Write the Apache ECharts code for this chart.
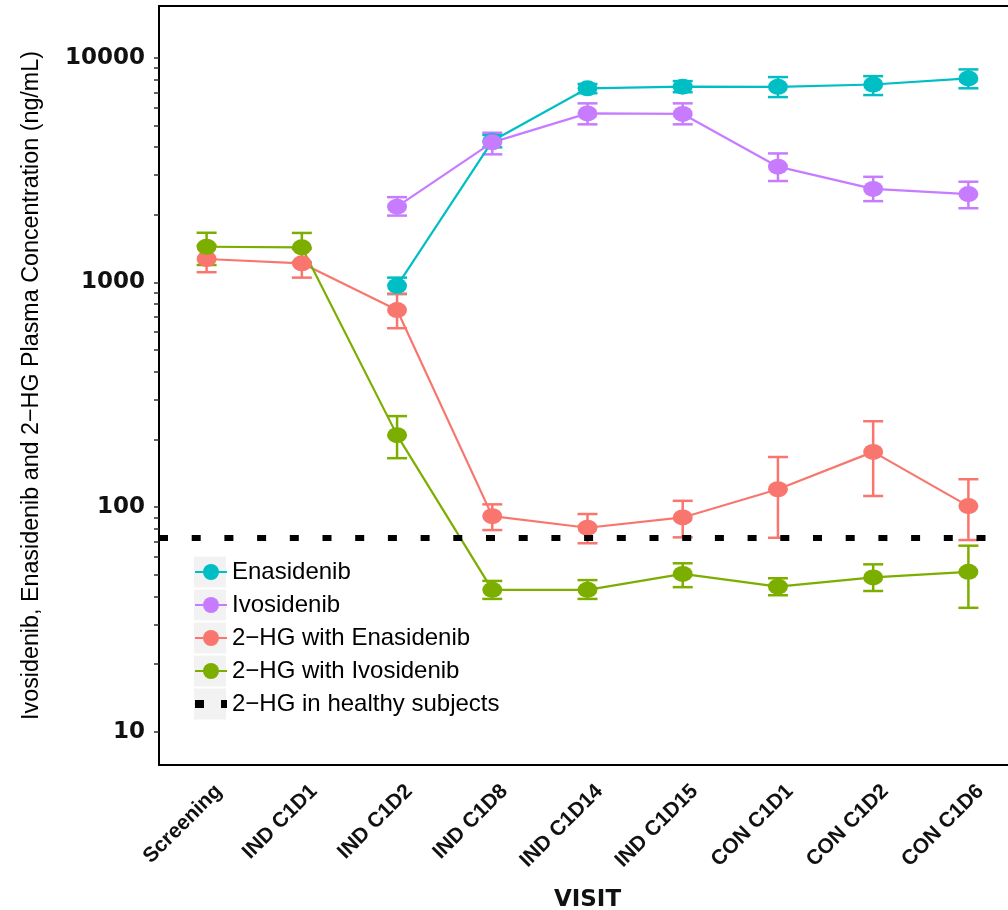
<!DOCTYPE html>
<html>
<head>
<meta charset="utf-8">
<script src="https://cdn.jsdelivr.net/npm/echarts@6/dist/echarts.min.js"></script>
<style>html,body{margin:0;padding:0;background:#fff;}#chart{width:1008px;height:910px;}</style>
</head>
<body>
<div id="chart"></div>
<script>
const categories = ['Screening','IND C1D1','IND C1D2','IND C1D8','IND C1D14','IND C1D15','CON C1D1','CON C1D2','CON C1D6'];

const enaMean = [null, null, 965, 4257, 7310, 7430, 7420, 7600, 8090];
const enaLow  = [null, null, 887, 3990, 6950, 7020, 6680, 6820, 7310];
const enaHigh = [null, null, 1050, 4530, 7640, 7870, 8200, 8280, 8870];

const ivoMean = [null, null, 2173, 4200, 5650, 5620, 3273, 2606, 2473];
const ivoLow  = [null, null, 1983, 3715, 5052, 5052, 2826, 2300, 2138];
const ivoHigh = [null, null, 2395, 4635, 6265, 6265, 3750, 2950, 2806];

const hgEnaMean = [1271, 1216, 753, 91.1, 80.9, 89.9, 120, 176, 101];
const hgEnaLow  = [1110, 1050, 625, 79.0, 69.0, 73.3, 73, 112, 71.3];
const hgEnaHigh = [1455, 1410, 890, 102.8, 93.1, 106.6, 167, 241, 133];

const hgIvoMean = [1441, 1432, 209, 42.8, 42.8, 50.4, 44.2, 48.6, 51.5];
const hgIvoLow  = [1195, 1230, 165, 39.0, 39.0, 44.0, 40.5, 42.3, 35.6];
const hgIvoHigh = [1663, 1660, 254, 46.9, 47.3, 56.2, 48.2, 55.6, 67.3];

const healthyLevel = 73.3;

const yTickLabels = [10, 100, 1000, 10000];
const minorMultipliers = [1, 2, 3, 4, 5, 6, 7, 8, 9];

const names = ['Enasidenib', 'Ivosidenib', '2\u2212HG with Enasidenib', '2\u2212HG with Ivosidenib'];
const healthyName = '2\u2212HG in healthy subjects';
const colors = ['#00BFC4', '#C77CFF', '#F8766D', '#7CAE00'];
const means = [enaMean, ivoMean, hgEnaMean, hgIvoMean];
const lows = [enaLow, ivoLow, hgEnaLow, hgIvoLow];
const highs = [enaHigh, ivoHigh, hgEnaHigh, hgIvoHigh];

const tickValues = [];
yTickLabels.slice(0, 3).forEach(d => minorMultipliers.forEach(m => tickValues.push(d * m)));
tickValues.push(10000);

function errRender(color) {
  return function (params, api) {
    const x = api.value(0);
    const lo = api.coord([x, api.value(1)]);
    const hi = api.coord([x, api.value(2)]);
    const hw = 10;
    const style = { stroke: color, lineWidth: 2.5, fill: null };
    return {
      type: 'group',
      children: [
        { type: 'line', shape: { x1: lo[0], y1: hi[1], x2: lo[0], y2: lo[1] }, style: style },
        { type: 'line', shape: { x1: lo[0] - hw, y1: hi[1], x2: lo[0] + hw, y2: hi[1] }, style: style },
        { type: 'line', shape: { x1: lo[0] - hw, y1: lo[1], x2: lo[0] + hw, y2: lo[1] }, style: style }
      ]
    };
  };
}

const series = [];
names.forEach((n, k) => {
  const errData = [];
  means[k].forEach((v, i) => { if (v != null) errData.push([i, lows[k][i], highs[k][i]]); });
  series.push({
    type: 'custom', name: 'err_' + k, renderItem: errRender(colors[k]),
    data: errData, encode: { x: 0, y: [1, 2] }, z: 2, silent: true
  });
});
names.forEach((n, k) => {
  series.push({
    type: 'line', name: n, data: means[k], symbol: 'circle', symbolSize: [20, 16],
    lineStyle: { color: colors[k], width: 2.2 }, itemStyle: { color: colors[k] },
    z: 3, silent: true
  });
});
series.push({
  type: 'line', name: healthyName, data: [], itemStyle: { color: '#000' },
  lineStyle: { color: '#000' }, z: 5,
  markLine: {
    silent: true, symbol: 'none', z: 10,
    label: { show: false },
    lineStyle: { color: '#000', width: 6, type: [9, 23.7], cap: 'butt' },
    data: [{ yAxis: healthyLevel }]
  }
});

const legendKeys = [0, 1, 2, 3, 4].map(k => ({
  type: 'rect', shape: { x: 194, y: 556.5 + 33 * k, width: 32, height: 31 },
  style: { fill: '#F2F2F2' }, z: 1
}));

const chart = echarts.init(document.getElementById('chart'), null, { renderer: 'canvas' });
chart.setOption({
  animation: false,
  backgroundColor: '#fff',
  grid: { left: 159, top: 6, width: 857, bottom: 145, outerBoundsMode: 'none', containLabel: false, show: true, borderColor: '#000', borderWidth: 2, backgroundColor: 'transparent' },
  xAxis: {
    type: 'category', data: categories, boundaryGap: true,
    axisLine: { lineStyle: { color: '#000', width: 2 } },
    axisTick: { alignWithLabel: true, length: 5, lineStyle: { color: '#333', width: 1.5 } },
    axisLabel: { rotate: 45, interval: 0, fontFamily: 'Liberation Sans', fontWeight: 'bold', fontSize: 21, color: '#111', margin: 11, verticalAlign: 'top', lineHeight: 34 },
    splitLine: { show: false },
    name: 'VISIT', nameLocation: 'middle', nameGap: 124,
    nameTextStyle: { fontFamily: 'DejaVu Sans', fontWeight: 'bold', fontSize: 23, color: '#111' }
  },
  yAxis: {
    type: 'log', logBase: 10, min: 7.11, max: 16990,
    axisLine: { show: true, lineStyle: { color: '#000', width: 2 } },
    axisTick: { show: true, length: 5, lineStyle: { color: '#333', width: 1.5 }, customValues: tickValues },
    axisLabel: { customValues: yTickLabels, formatter: v => String(Math.round(v)), fontFamily: 'DejaVu Sans', fontWeight: 'bold', fontSize: 23, color: '#111', margin: 14 },
    splitLine: { show: false },
    minorTick: { show: false },
    name: 'Ivosidenib, Enasidenib and 2\u2212HG Plasma Concentration (ng/mL)',
    nameLocation: 'middle', nameGap: 116,
    nameTextStyle: { fontFamily: 'Liberation Sans', fontSize: 23.3, color: '#000' }
  },
  legend: {
    orient: 'vertical', left: 194, top: 560, padding: 0, itemWidth: 32, itemHeight: 20, itemGap: 9,
    selectedMode: false,
    textStyle: { fontFamily: 'Liberation Sans', fontSize: 24, lineHeight: 24, color: '#000' },
    data: names.map(n => ({ name: n })).concat([{
      name: healthyName,
      icon: 'path://M0,6h9v8h-9z M26,6h6v8h-6z'
    }])
  },
  graphic: legendKeys,
  series: series
});
</script>
</body>
</html>
